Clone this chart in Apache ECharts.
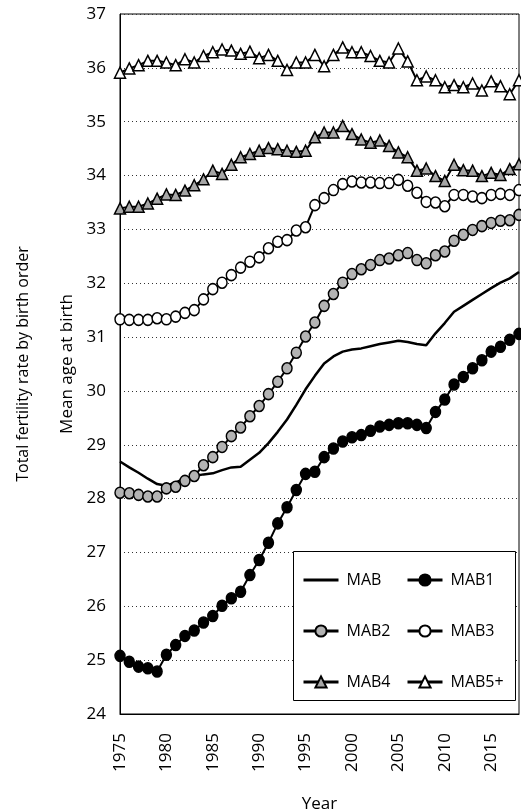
<!DOCTYPE html>
<html>
<head>
<meta charset="utf-8">
<script src="https://cdn.jsdelivr.net/npm/echarts@6/dist/echarts.min.js"></script>
<style>
html,body{margin:0;padding:0;background:#fff;}
#chart{width:521px;height:812px;}
</style>
</head>
<body>
<div id="chart"></div>
<script>
const years = [];
for (let y = 1975; y <= 2018; y++) years.push(String(y));

const MAB = [28.69,28.58,28.48,28.37,28.27,28.24,28.30,28.37,28.42,28.45,28.47,28.53,28.58,28.59,28.72,28.85,29.03,29.24,29.47,29.74,30.03,30.28,30.51,30.64,30.73,30.77,30.79,30.83,30.87,30.90,30.93,30.91,30.87,30.85,31.07,31.26,31.47,31.58,31.69,31.80,31.91,32.01,32.09,32.21];
const MAB1 = [25.08,24.97,24.88,24.85,24.79,25.10,25.28,25.45,25.55,25.70,25.82,26.01,26.15,26.27,26.58,26.86,27.18,27.54,27.84,28.16,28.46,28.50,28.77,28.93,29.06,29.14,29.18,29.26,29.34,29.37,29.40,29.40,29.37,29.31,29.61,29.84,30.12,30.26,30.42,30.57,30.73,30.82,30.95,31.06];
const MAB2 = [28.11,28.10,28.07,28.04,28.04,28.19,28.22,28.33,28.42,28.62,28.77,28.96,29.16,29.32,29.53,29.72,29.94,30.17,30.42,30.71,31.01,31.27,31.58,31.80,32.01,32.17,32.26,32.34,32.43,32.46,32.52,32.56,32.43,32.37,32.52,32.59,32.79,32.90,32.99,33.06,33.12,33.16,33.17,33.27];
const MAB3 = [31.33,31.32,31.32,31.32,31.35,31.33,31.38,31.45,31.50,31.70,31.89,32.01,32.15,32.29,32.40,32.48,32.65,32.77,32.80,32.98,33.04,33.45,33.58,33.73,33.84,33.89,33.87,33.87,33.86,33.86,33.92,33.81,33.68,33.51,33.50,33.43,33.64,33.64,33.61,33.58,33.64,33.66,33.64,33.73];
const MAB4 = [33.39,33.42,33.42,33.48,33.57,33.65,33.64,33.72,33.82,33.93,34.09,34.03,34.20,34.34,34.40,34.46,34.51,34.49,34.46,34.44,34.46,34.71,34.80,34.80,34.92,34.77,34.67,34.61,34.65,34.55,34.43,34.34,34.09,34.13,33.99,33.90,34.20,34.10,34.09,33.99,34.05,34.01,34.12,34.21];
const MAB5 = [35.91,35.99,36.05,36.13,36.13,36.10,36.05,36.16,36.10,36.22,36.29,36.34,36.32,36.26,36.30,36.18,36.24,36.13,35.96,36.10,36.10,36.24,36.03,36.24,36.38,36.29,36.29,36.22,36.13,36.10,36.36,36.12,35.77,35.84,35.77,35.64,35.68,35.64,35.71,35.58,35.75,35.66,35.51,35.77];

const yMin = 24, yMax = 37, yStep = 1;

const FONT = 'Open Sans';
const chart = echarts.init(document.getElementById('chart'), null, {renderer: 'canvas'});

function markerSeries(name, data, symbol, fill, size) {
  return {
    name: name, type: 'line', data: data,
    symbol: symbol, symbolSize: size, showSymbol: true, showAllSymbol: true,
    lineStyle: {color: '#000', width: 2},
    itemStyle: {color: fill, borderColor: '#000', borderWidth: 1.5},
    emphasis: {disabled: true},
    animation: false
  };
}

const legendCommon = {
  orient: 'vertical', padding: 0, itemGap: 35, itemWidth: 35, itemHeight: 14,
  lineStyle: {width: 3},
  textStyle: {fontFamily: FONT, fontSize: 16, color: '#000', lineHeight: 14, padding: [0,0,0,3]},
  selectedMode: false, z: 10
};

chart.setOption({
  backgroundColor: '#fff',
  animation: false,
  grid: {left: 120, right: 2, top: 14, bottom: 98, outerBoundsMode: 'none', containLabel: false,
         show: true, borderColor: '#000', borderWidth: 1, backgroundColor: 'transparent'},
  xAxis: {
    type: 'category', data: years, boundaryGap: false,
    name: 'Year', nameLocation: 'middle', nameGap: 82,
    nameTextStyle: {fontFamily: FONT, fontSize: 17, color: '#000'},
    axisLine: {lineStyle: {color: '#000', width: 1}},
    axisTick: {show: false},
    axisLabel: {interval: 4, rotate: 90, margin: 19, fontFamily: FONT, fontSize: 17, color: '#000'},
    splitLine: {show: false}
  },
  yAxis: [{
    type: 'value', min: yMin, max: yMax, interval: yStep,
    name: 'Mean age at birth', nameLocation: 'middle', nameGap: 43,
    nameTextStyle: {fontFamily: FONT, fontSize: 17, color: '#000'},
    axisLine: {show: true, lineStyle: {color: '#000', width: 1}},
    axisTick: {show: false},
    axisLabel: {margin: 14, fontFamily: FONT, fontSize: 17, color: '#000'},
    splitLine: {show: true, lineStyle: {color: '#333', width: 1, type: [1, 3]}}
  }, {
    type: 'value', min: yMin, max: yMax, interval: yStep, position: 'left',
    name: 'Total fertility rate by birth order', nameLocation: 'middle', nameGap: 89,
    nameTextStyle: {fontFamily: FONT, fontSize: 16, color: '#000'},
    axisLine: {show: false}, axisTick: {show: false}, axisLabel: {show: false}, splitLine: {show: false}
  }],
  graphic: [{
    type: 'rect', z: 5,
    shape: {x: 293.5, y: 551.5, width: 222, height: 149},
    style: {fill: '#fff', stroke: '#000', lineWidth: 1}
  }],
  legend: [
    Object.assign({}, legendCommon, {left: 302, top: 572, data: [
      {name: 'MAB', itemStyle: {color: 'rgba(0,0,0,0)', borderColor: 'rgba(0,0,0,0)', borderWidth: 0}},
      'MAB2', 'MAB4']}),
    Object.assign({}, legendCommon, {left: 406, top: 572, data: ['MAB1', 'MAB3', 'MAB5+']})
  ],
  series: [
    {name: 'MAB', type: 'line', data: MAB, symbol: 'none', showSymbol: false,
     lineStyle: {color: '#000', width: 2.5}, itemStyle: {color: '#000'}, emphasis: {disabled: true}},
    markerSeries('MAB1', MAB1, 'circle', '#000', [10, 11]),
    markerSeries('MAB2', MAB2, 'circle', '#b3b3b3', [10, 11]),
    markerSeries('MAB3', MAB3, 'circle', '#fff', [10, 11]),
    markerSeries('MAB4', MAB4, 'triangle', '#a6a6a6', [11, 11]),
    markerSeries('MAB5+', MAB5, 'triangle', '#fff', [11, 11])
  ]
});
</script>
</body>
</html>
